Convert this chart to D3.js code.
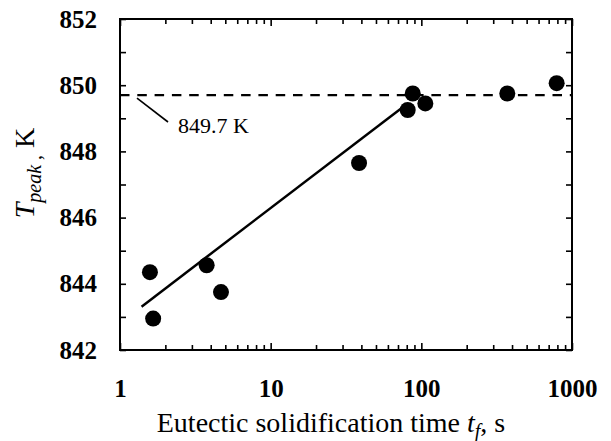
<!DOCTYPE html>
<html>
<head>
<meta charset="utf-8">
<script src="https://cdn.jsdelivr.net/npm/d3@7"></script>
<style>
  html, body { margin: 0; padding: 0; background: #fff; }
  svg { display: block; }
  svg text { font-family: "Liberation Serif", "Times New Roman", "DejaVu Serif", serif; fill: #000; }
</style>
</head>
<body>
<svg id="chart" width="611" height="441"></svg>
<script>
// Peak temperature against eutectic solidification time
const solidTime = [1.58, 1.66, 3.76, 4.68, 38.6, 81.2, 87.7, 106.3, 372, 791];
const peakTemp  = [844.35, 842.95, 844.56, 843.75, 847.65, 849.25, 849.75, 849.45, 849.75, 850.06];

// Fitted trend (log-linear) and plateau level
const fitTime = [1.39, 76];
const fitTemp = [843.31, 849.35];
const plateauTemp = 849.7;
const plateauLabel = "849.7 K";

const xMajorTicks = [1, 10, 100, 1000];
const xMinorTicks = [2,3,4,5,6,7,8,9, 20,30,40,50,60,70,80,90, 200,300,400,500,600,700,800,900];
const yTicks = [842, 843, 844, 845, 846, 847, 848, 849, 850, 851, 852];
const yLabelTicks = [842, 844, 846, 848, 850, 852];

const svg = d3.select("#chart");
const plotL = 120, plotR = 572, plotT = 19, plotB = 350;

const x = d3.scaleLog().domain([1, 1000]).range([plotL, plotR]);
const y = d3.scaleLinear().domain([842, 852]).range([plotB, plotT]);

function styleAxis(g) {
  g.select(".domain").remove();
  g.selectAll(".tick line").attr("stroke", "#000").attr("stroke-width", 1.6);
  g.attr("font-family", null);
}

// bottom axis: labelled decades + minor ticks
svg.append("g").attr("transform", `translate(0,${plotB})`)
  .call(d3.axisBottom(x).tickValues(xMajorTicks).tickSize(-7).tickPadding(29)
        .tickFormat(d3.format("d")))
  .call(styleAxis)
  .call(g => g.selectAll("text").style("font-size", "25px").style("font-weight", "bold"));
svg.append("g").attr("transform", `translate(0,${plotB})`)
  .call(d3.axisBottom(x).tickValues(xMinorTicks).tickSize(-5).tickFormat(""))
  .call(styleAxis);

// top axis ticks
svg.append("g").attr("transform", `translate(0,${plotT})`)
  .call(d3.axisTop(x).tickValues(xMajorTicks).tickSize(-7).tickFormat(""))
  .call(styleAxis);
svg.append("g").attr("transform", `translate(0,${plotT})`)
  .call(d3.axisTop(x).tickValues(xMinorTicks).tickSize(-5).tickFormat(""))
  .call(styleAxis);

// left axis
svg.append("g").attr("transform", `translate(${plotL},0)`)
  .call(d3.axisLeft(y).tickValues(yTicks).tickSize(-6).tickPadding(23)
        .tickFormat(d => yLabelTicks.includes(d) ? d3.format("d")(d) : ""))
  .call(styleAxis)
  .call(g => g.selectAll("text").style("font-size", "25px").style("font-weight", "bold"));

// right axis ticks
svg.append("g").attr("transform", `translate(${plotR},0)`)
  .call(d3.axisRight(y).tickValues(yTicks).tickSize(-6).tickFormat(""))
  .call(styleAxis);

// frame
svg.append("rect")
  .attr("x", plotL).attr("y", plotT)
  .attr("width", plotR - plotL).attr("height", plotB - plotT)
  .attr("fill", "none").attr("stroke", "#000").attr("stroke-width", 2);

// plateau (dashed)
svg.append("line")
  .attr("x1", plotL).attr("x2", plotR)
  .attr("y1", y(plateauTemp)).attr("y2", y(plateauTemp))
  .attr("stroke", "#000").attr("stroke-width", 2.3)
  .attr("stroke-dasharray", "9.5 7.8");

// fitted line
const line = d3.line().x(d => x(d[0])).y(d => y(d[1]));
svg.append("path")
  .datum(d3.zip(fitTime, fitTemp))
  .attr("d", line)
  .attr("fill", "none").attr("stroke", "#000").attr("stroke-width", 2.5);

// data points
svg.append("g").selectAll("circle")
  .data(d3.zip(solidTime, peakTemp))
  .join("circle")
  .attr("cx", d => x(d[0])).attr("cy", d => y(d[1]))
  .attr("r", 8).attr("fill", "#000");

// plateau annotation with leader
svg.append("line")
  .attr("x1", 137).attr("y1", y(plateauTemp) + 3)
  .attr("x2", 168).attr("y2", 122)
  .attr("stroke", "#000").attr("stroke-width", 1.6);
svg.append("text")
  .attr("x", 178).attr("y", 133)
  .style("font-size", "22px")
  .text(plateauLabel);

// x title
const xt = svg.append("text")
  .attr("x", 331).attr("y", 432)
  .attr("text-anchor", "middle")
  .style("font-size", "28px");
xt.append("tspan").text("Eutectic solidification time ");
xt.append("tspan").style("font-style", "italic").text("t");
xt.append("tspan").style("font-style", "italic").style("font-size", "20px").attr("dy", 6).text("f");
xt.append("tspan").attr("dy", -6).text(", s");

// y title
const yt = svg.append("text")
  .attr("transform", "translate(34,173) rotate(-90)")
  .attr("text-anchor", "middle")
  .style("font-size", "28px");
yt.append("tspan").style("font-style", "italic").text("T");
yt.append("tspan").style("font-style", "italic").style("font-size", "20px").attr("dy", 7).text("peak");
yt.append("tspan").style("font-size", "20px").text(" ,");
yt.append("tspan").attr("dy", -7).text(" K");
</script>
</body>
</html>
